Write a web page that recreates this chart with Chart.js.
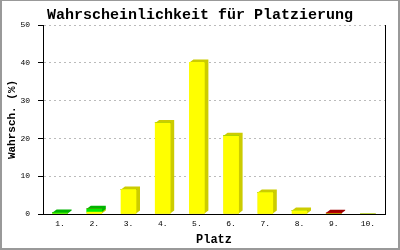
<!DOCTYPE html>
<html>
<head>
<meta charset="utf-8">
<style>
  html, body { margin: 0; padding: 0; background: #fff; }
  #wrap { width: 400px; height: 250px; }
</style>
</head>
<body>
<div id="wrap"><canvas id="platzChart" width="400" height="250"></canvas></div>

<script src="https://cdn.jsdelivr.net/npm/chart.js"></script>
<script>
// data (front face of each bar)
const places = ['1.', '2.', '3.', '4.', '5.', '6.', '7.', '8.', '9.', '10.'];
const yellowVals = [0, 0.5, 6.5, 24.1, 40.1, 20.7, 5.7, 0.9, 0, 0];
const greenVals = [0.4, 0.9, 0, 0, 0, 0, 0, 0, 0, 0];
const redVals = [0, 0, 0, 0, 0, 0, 0, 0, 0.3, 0];
const yTicks = [0, 10, 20, 30, 40, 50];

const monoFont = "'Liberation Mono', 'DejaVu Sans Mono', monospace";
const sideColors = ['#cccc00', '#00b400', '#a00000'];

// draws the darker top/side of every bar for the 3D look
const bar3d = {
    id: 'bar3d',
    beforeDatasetsDraw(chart) {
        const c = chart.ctx;
        const dx = 4, dy = 3;
        chart.data.datasets.forEach((ds, i) => {
            const meta = chart.getDatasetMeta(i);
            meta.data.forEach((el, j) => {
                if (!ds.data[j]) return;
                const p = el.getProps(['x', 'y', 'base', 'width'], true);
                const l = p.x - p.width / 2, r = p.x + p.width / 2;
                c.save();
                c.fillStyle = sideColors[i];
                c.beginPath();
                c.moveTo(l, p.y);
                c.lineTo(l + dx, p.y - dy);
                c.lineTo(r + dx, p.y - dy);
                c.lineTo(r + dx, p.base - dy);
                c.lineTo(r, p.base);
                c.lineTo(l, p.base);
                c.closePath();
                c.fill();
                c.restore();
            });
        });
    },
    afterDraw(chart) {
        const c = chart.ctx;
        c.save();
        // grey frame round the image
        c.fillStyle = '#999';
        c.fillRect(0, 0, 400, 1);
        c.fillRect(0, 0, 2, 250);
        c.fillRect(398, 0, 2, 250);
        c.fillRect(0, 248, 400, 2);
        c.restore();
    }
};

const ctx = document.getElementById('platzChart').getContext('2d');

const chart = new Chart(ctx, {
    type: 'bar',
    data: {
        labels: places,
        datasets: [
            { label: 'gelb', data: yellowVals, backgroundColor: '#ffff00' },
            { label: 'grün', data: greenVals, backgroundColor: '#00ee00' },
            { label: 'rot', data: redVals, backgroundColor: '#dd0000' }
        ]
    },
    options: {
        responsive: false,
        animation: false,
        barThickness: 15,
        layout: { padding: 0 },
        plugins: {
            legend: { display: false },
            tooltip: { enabled: false },
            title: {
                display: true,
                text: 'Wahrscheinlichkeit für Platzierung',
                color: '#000',
                font: { family: monoFont, size: 15, weight: 'bold', lineHeight: 1.2 },
                padding: { top: 6, bottom: 1 }
            }
        },
        scales: {
            x: {
                stacked: true,
                grid: { display: false, drawTicks: false },
                border: { color: '#000', width: 1 },
                ticks: { color: '#000', font: { family: monoFont, size: 8 }, padding: 5, maxRotation: 0 },
                title: {
                    display: true,
                    text: 'Platz',
                    color: '#000',
                    font: { family: monoFont, size: 12, weight: 'bold' },
                    padding: { top: 4, bottom: 3 }
                },
                afterFit: s => { s.height = 36; }
            },
            y: {
                stacked: true,
                min: 0,
                max: 50,
                afterBuildTicks: s => { s.ticks = yTicks.map(v => ({ value: v })); },
                grid: {
                    color: '#bbbbbb',
                    tickColor: '#000',
                    tickLength: 5,
                    tickBorderDash: [0, 0]
                },
                border: { color: '#000', width: 1, dash: [2, 3] },
                ticks: { color: '#000', font: { family: monoFont, size: 8 }, padding: 8 },
                title: {
                    display: true,
                    text: 'Wahrsch. (%)',
                    color: '#000',
                    font: { family: monoFont, size: 11, weight: 'bold' },
                    padding: { top: 6, bottom: 0 }
                },
                afterFit: s => { s.width = 43; }
            },
            // empty right axis, only its line closes the plot on the right
            yRight: {
                position: 'right',
                min: 0,
                max: 50,
                grid: { display: false, drawTicks: false },
                ticks: { display: false },
                border: { display: true, color: '#000', width: 1 },
                afterFit: s => { s.width = 15; }
            }
        }
    },
    plugins: [bar3d]
});
</script>
</body>
</html>
